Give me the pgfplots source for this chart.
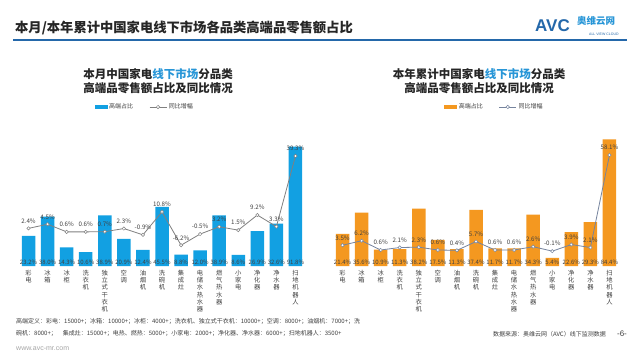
\documentclass[border=0pt]{standalone}
\usepackage{pgfplots}
\pgfplotsset{compat=1.18}
\usepackage{pgfplotstable}
\usepackage{fontspec}
\setmainfont{Noto Sans CJK SC}
\newfontfamily\logofont{Liberation Sans}
\definecolor{barblue}{RGB}{18,160,226}
\definecolor{barorange}{RGB}{244,152,32}
\definecolor{linegray}{RGB}{128,128,128}
\definecolor{lineblue}{RGB}{118,132,158}
\definecolor{titleblue}{RGB}{36,104,170}
\definecolor{hlblue}{RGB}{40,150,215}
\definecolor{txt}{RGB}{64,64,64}

\pgfplotstableread{
x share yoy base
0 23.2 2.4 0
1 38.0 4.5 0
2 14.3 0.6 0
3 10.6 0.6 0
4 38.9 0.7 0
5 20.9 2.3 0
6 12.4 -0.9 0
7 45.5 10.8 0
8 8.8 -6.2 0
9 12.0 -0.5 0
10 38.9 3.2 0
11 8.6 1.5 0
12 26.9 9.2 0
13 32.6 3.3 0
14 91.8 39.3 0
}\lefttab

\pgfplotstableread{
x share yoy base
0 21.4 3.5 0
1 35.6 6.2 0
2 10.9 0.6 0
3 11.3 2.1 0
4 38.2 2.3 0
5 17.5 0.6 0
6 11.3 0.4 0
7 37.4 5.7 0
8 11.7 0.6 0
9 11.7 0.6 0
10 34.3 2.6 0
11 5.4 -0.1 0
12 22.6 3.9 0
13 29.3 2.1 0
14 84.4 58.1 0
}\righttab

\pgfplotsset{
  base/.style={scale only axis, width=286pt, xmin=-0.5, xmax=14.5, clip=false,
    axis line style={draw=none}, major tick length=0pt, ytick=\empty},
  cats/.style={xtick={0,...,14},
    xticklabels={{彩\\电},{冰\\箱},{冰\\柜},{洗\\衣\\机},{独\\立\\式\\干\\衣\\机},{空\\调},{油\\烟\\机},{洗\\碗\\机},{集\\成\\灶},{电\\储\\水\\热\\水\\器},{燃\\气\\热\\水\\器},{小\\家\\电},{净\\化\\器},{净\\水\\器},{扫\\地\\机\\器\\人}},
    xticklabel style={font=\fontsize{6.3}{7.2}\selectfont, align=center, text=txt, anchor=north, inner sep=0pt, yshift=-4pt}},
  barlab/.style={draw=none, mark=none, nodes near coords={\pgfplotspointmeta\%}, point meta=explicit symbolic,
    every node near coord/.style={font=\fontsize{6}{7}\selectfont, text=txt, anchor=base, yshift=1.5pt}},
  linelab/.style={nodes near coords={\pgfplotspointmeta\%}, point meta=explicit symbolic,
    every node near coord/.style={font=\fontsize{6.2}{7}\selectfont, text=txt, anchor=south, yshift=1.5pt}},
  leg/.style={legend style={draw=none, fill=none, legend columns=2, font=\fontsize{6}{7}\selectfont, text=txt,
    /tikz/every even column/.append style={column sep=14pt}, legend cell align=left, inner sep=0pt}},
}

\begin{document}
\begin{tikzpicture}
\useasboundingbox (0pt,0pt) rectangle (640pt,360pt);
\fill[white] (0pt,0pt) rectangle (640pt,360pt);

% title and logo
\node[anchor=west, font=\bfseries\fontsize{13.3}{16}\selectfont, text=black!85, inner sep=0pt] at (15pt,332pt) {本月/本年累计中国家电线下市场各品类高端品零售额占比};
\draw[titleblue, line width=1.1pt] (13pt,320pt) -- (627pt,320pt);
\node[anchor=west, font=\logofont\bfseries\fontsize{17}{17}\selectfont, text=titleblue, inner sep=0pt] at (535pt,334pt) {AVC};
\node[anchor=west, font=\bfseries\fontsize{9.5}{10}\selectfont, text=hlblue, inner sep=0pt] at (577pt,339pt) {奥维云网};
\node[anchor=west, font=\logofont\fontsize{3.5}{4}\selectfont, text=titleblue, inner sep=0pt] at (589pt,326pt) {ALL VIEW CLOUD};

% subtitles
\node[align=center, font=\bfseries\fontsize{11.5}{14.5}\selectfont, text=black!85] at (158pt,279pt) {本月中国家电\textcolor{hlblue}{线下市场}分品类\\高端品零售额占比及同比情况};
\node[align=center, font=\bfseries\fontsize{11.5}{14.5}\selectfont, text=black!85] at (479pt,279pt) {本年累计中国家电\textcolor{hlblue}{线下市场}分品类\\高端品零售额占比及同比情况};

% LEFT chart: bars
\begin{axis}[base, cats, height=130pt, at={(19pt,94pt)}, anchor=south west, ymin=0, ymax=100]
\addplot[ybar, bar width=13.5pt, fill=barblue, draw=none] table[x=x,y=share]{\lefttab};
\addplot[barlab] table[x=x,y=base,meta=share]{\lefttab};
\end{axis}
% LEFT chart: line
\begin{axis}[base, leg, height=130pt, at={(19pt,94pt)}, anchor=south west, xtick=\empty, ymin=-16.8, ymax=49.5,
  legend style={at={(0.44,1.223)}, anchor=center}]
\addlegendimage{legend image code/.code={\fill[barblue] (0pt,-1.6pt) rectangle (12pt,1.6pt);}}
\addlegendentry{高端占比}
\addplot[linegray, line width=0.8pt, mark=*, mark size=1.7pt, mark options={fill=white, draw=linegray, line width=0.5pt}, linelab] table[x=x,y=yoy,meta=yoy]{\lefttab};
\addlegendentry{同比增幅}
\end{axis}

% RIGHT chart: bars
\begin{axis}[base, cats, height=135pt, at={(333pt,94pt)}, anchor=south west, ymin=0, ymax=90]
\addplot[ybar, bar width=13.5pt, fill=barorange, draw=none] table[x=x,y=share]{\righttab};
\addplot[barlab] table[x=x,y=base,meta=share]{\righttab};
\end{axis}
% RIGHT chart: line
\begin{axis}[base, leg, height=135pt, at={(333pt,94pt)}, anchor=south west, xtick=\empty, ymin=-9.1, ymax=72.7,
  legend style={at={(0.565,1.178)}, anchor=center}]
\addlegendimage{legend image code/.code={\fill[barorange] (0pt,-1.6pt) rectangle (12pt,1.6pt);}}
\addlegendentry{高端占比}
\addplot[lineblue, line width=0.8pt, mark=*, mark size=1.7pt, mark options={fill=white, draw=lineblue, line width=0.5pt}, linelab] table[x=x,y=yoy,meta=yoy]{\righttab};
\addlegendentry{同比增幅}
\end{axis}

% footnote
\node[anchor=north west, align=left, font=\fontsize{6}{12}\selectfont, text=txt, inner sep=0pt] at (16pt,42pt) {高端定义：彩电：15000+；冰箱：10000+；冰柜：4000+；洗衣机、独立式干衣机：10000+；空调：8000+；油烟机：7000+；洗\\碗机：8000+；\quad 集成灶：15000+；电热、燃热：5000+；小家电：2000+；净化器、净水器：6000+；扫地机器人：3500+};
\node[anchor=west, font=\logofont\fontsize{7}{8}\selectfont, text=black!35, inner sep=0pt] at (16pt,11pt) {www.avc-mr.com};
\node[anchor=east, font=\fontsize{6}{7}\selectfont, text=txt, inner sep=0pt] at (606pt,26pt) {数据来源：奥维云网（AVC）线下监测数据};
\node[anchor=center, font=\logofont\fontsize{8}{9}\selectfont, text=txt, inner sep=0pt] at (622pt,26pt) {-6-};
\end{tikzpicture}
\end{document}
